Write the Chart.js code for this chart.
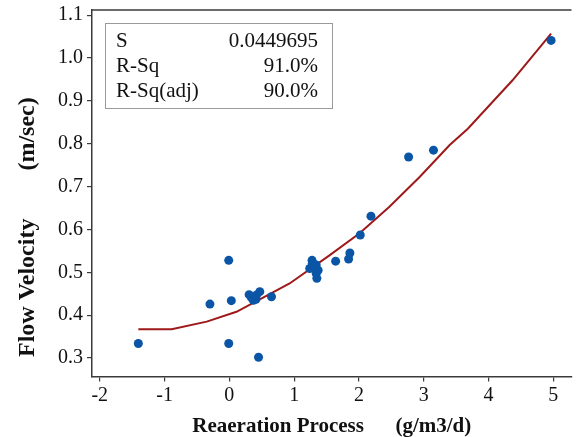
<!DOCTYPE html>
<html>
<head>
<meta charset="utf-8">
<script src="https://cdn.jsdelivr.net/npm/chart.js@4"></script>
<style>
  html, body { margin: 0; padding: 0; background: #fff; }
  #wrap { width: 576px; height: 437px; }
</style>
</head>
<body>
<div id="wrap"><canvas id="chartFit" width="576" height="437"></canvas></div>
<script>
// Data
var obsX = [-1.405, -0.01, -0.30, 0.03, -0.01, 0.45, 0.305, 0.47, 0.37, 0.41, 0.34, 0.65, 0.42,
            1.276, 1.24, 1.34, 1.37, 1.34, 1.35, 1.28, 1.64, 1.86, 1.84, 2.02, 2.185, 2.766, 3.15, 4.965];
var obsY = [0.334, 0.528, 0.426, 0.434, 0.334, 0.302, 0.448, 0.455, 0.435, 0.437, 0.441, 0.443, 0.447,
            0.528, 0.509, 0.517, 0.505, 0.497, 0.486, 0.521, 0.526, 0.545, 0.531, 0.587, 0.631, 0.769, 0.785, 1.041];

var fitX = [-1.405, -0.89, -0.35, 0.11, 0.93, 1.55, 2.01, 2.47, 2.94, 3.40, 3.68, 4.37, 4.965];
var fitY = [0.367, 0.367, 0.385, 0.408, 0.474, 0.540, 0.591, 0.653, 0.723, 0.797, 0.835, 0.948, 1.057];

var xTicks = [-2, -1, 0, 1, 2, 3, 4, 5];
var yTicks = [0.3, 0.4, 0.5, 0.6, 0.7, 0.8, 0.9, 1.0, 1.1];

var statLabels = ['S', 'R-Sq', 'R-Sq(adj)'];
var statValues = ['0.0449695', '91.0%', '90.0%'];

var yTitle = 'Flow Velocity        (m/sec)';
var xTitle = 'Reaeration Process      (g/m3/d)';

var serif = '"Liberation Serif", "Times New Roman", serif';
var axisColor = '#3a3a3a';

// top frame line, y title and stats box
var framePlugin = {
    id: 'frame',
    afterDraw: function(chart) {
        var ctx = chart.ctx;
        var area = chart.chartArea;
        ctx.save();
        ctx.strokeStyle = axisColor;
        ctx.lineWidth = 1.5;
        ctx.beginPath();
        ctx.moveTo(area.left, area.top);
        ctx.lineTo(area.right, area.top);
        ctx.stroke();

        // y title, reads bottom to top
        ctx.save();
        ctx.translate(28, 357);
        ctx.rotate(-Math.PI / 2);
        ctx.fillStyle = '#111';
        ctx.font = 'bold 24px ' + serif;
        ctx.textAlign = 'left';
        ctx.textBaseline = 'middle';
        ctx.fillText(yTitle, 0, 0);
        ctx.restore();

        // stats box
        ctx.strokeStyle = '#9a9a9a';
        ctx.lineWidth = 1;
        ctx.strokeRect(105.5, 23.5, 227, 85);
        ctx.fillStyle = '#111';
        ctx.font = '21px ' + serif;
        ctx.textBaseline = 'alphabetic';
        for (var i = 0; i < statLabels.length; i++) {
            var yy = 47 + i * 25;
            ctx.textAlign = 'left';
            ctx.fillText(statLabels[i], 116, yy);
            ctx.textAlign = 'right';
            ctx.fillText(statValues[i], 318, yy);
        }
        ctx.restore();
    }
};

var data = {
    datasets: [{
        type: 'line',
        data: fitX.map(function(x, i) { return {x: x, y: fitY[i]}; }),
        borderColor: '#9e1a1a',
        borderWidth: 2,
        pointRadius: 0,
        fill: false,
        tension: 0,
        order: 2
    }, {
        type: 'scatter',
        data: obsX.map(function(x, i) { return {x: x, y: obsY[i]}; }),
        backgroundColor: '#0a55a6',
        borderColor: '#0a55a6',
        pointRadius: 4.5,
        borderWidth: 0,
        order: 1
    }]
};

var options = {
    responsive: false,
    animation: false,
    layout: { padding: { left: 0, right: 4, top: 10, bottom: 0 } },
    plugins: {
        legend: { display: false },
        tooltip: { enabled: false }
    },
    scales: {
        x: {
            type: 'linear',
            min: -2.12,
            max: 5.28,
            afterBuildTicks: function(axis) {
                axis.ticks = xTicks.map(function(v) { return {value: v}; });
            },
            afterFit: function(axis) {
                axis.height = 60.5;
                axis.paddingLeft = 0;
                axis.paddingRight = 0;
            },
            grid: { drawOnChartArea: false, drawTicks: true, tickLength: 5, color: axisColor, lineWidth: 1.2 },
            border: { display: true, color: axisColor, width: 1.5 },
            ticks: { color: '#111', padding: 2, font: { family: serif, size: 20 }, maxRotation: 0,
                     callback: function(v) { return String(v); } },
            title: { display: true, text: xTitle, color: '#111',
                     font: { family: serif, size: 21, weight: 'bold' }, padding: { top: 4, bottom: -2 } }
        },
        y: {
            type: 'linear',
            min: 0.257,
            max: 1.112,
            afterBuildTicks: function(axis) {
                axis.ticks = yTicks.map(function(v) { return {value: v}; });
            },
            afterFit: function(axis) {
                axis.width = 92;
                axis.paddingTop = 0;
                axis.paddingBottom = 0;
            },
            grid: { drawOnChartArea: false, drawTicks: true, tickLength: 5, color: axisColor, lineWidth: 1.2 },
            border: { display: true, color: axisColor, width: 1.5 },
            ticks: { color: '#111', padding: 4, font: { family: serif, size: 20 },
                     callback: function(v) { return v.toFixed(1); } },
            title: { display: false }
        }
    }
};

var canvas = document.getElementById('chartFit');
var ctx = canvas.getContext('2d');
var fitChart = new Chart(ctx, {
    type: 'scatter',
    data: data,
    options: options,
    plugins: [framePlugin]
});
</script>
</body>
</html>
